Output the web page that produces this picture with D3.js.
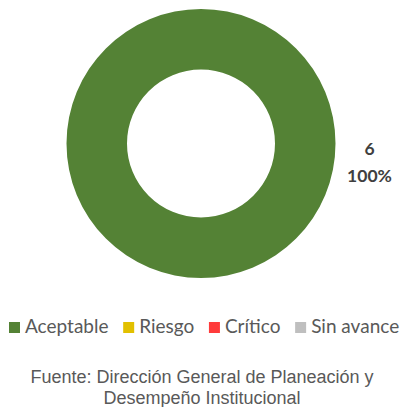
<!DOCTYPE html>
<html><head><meta charset="utf-8">
<script src="https://cdn.jsdelivr.net/npm/d3@7"></script>
<style>html,body{margin:0;padding:0;background:#fff}svg{display:block}</style>
</head><body>
<script>
const categories = ["Aceptable", "Riesgo", "Crítico", "Sin avance"];
const values = [6, 0, 0, 0];
const colors = ["#548235", "#E2C000", "#FF3B3B", "#BFBFBF"];
const sourceLines = ["Fuente: Dirección General de Planeación y", "Desempeño Institucional"];

const W = 403, H = 407;
const svg = d3.select("body").append("svg").attr("width", W).attr("height", H);

const cx = 201, cy = 143.5, rOuter = 134.5, rInner = 74;
const total = d3.sum(values);
const data = categories.map((c, i) => ({cat: c, value: values[i], color: colors[i]}));
const pie = d3.pie().sort(null).value(d => d.value);
const arc = d3.arc().innerRadius(rInner).outerRadius(rOuter);
const arcs = pie(data);
const g = svg.append("g").attr("transform", `translate(${cx},${cy})`);
g.selectAll("path").data(arcs.filter(a => a.data.value > 0)).join("path")
  .attr("d", arc).attr("fill", d => d.data.color);

// labels
arcs.filter(a => a.data.value > 0).forEach(a => {
  const midAngle = Math.PI / 2; // full-circle slice: label placed at right
  const lx = (rOuter + 34) * Math.sin(midAngle), ly = 0;
  const t = g.append("text").attr("text-anchor", "middle")
    .attr("font-family", "Lato, 'Open Sans', sans-serif").attr("font-weight", "bold")
    .attr("font-size", 17.5).attr("fill", "#404040");
  t.append("tspan").attr("x", lx).attr("y", ly + 11).text(a.data.value);
  t.append("tspan").attr("x", lx).attr("y", ly + 38).text(d3.format(".0%")(a.data.value / total));
});

// legend
const leg = svg.append("g");
let x = 9;
const legY = 322, sq = 11;
const gaps = 14.7;
data.forEach((d, i) => {
  leg.append("rect").attr("x", x).attr("y", legY).attr("width", sq).attr("height", sq).attr("fill", d.color);
  const t = leg.append("text").attr("x", x + sq + 5).attr("y", legY + 11)
    .attr("font-family", "Lato, 'Open Sans', sans-serif").attr("font-size", 19)
    .attr("fill", "#595959").text(d.cat);
  x = x + sq + 5 + t.node().getComputedTextLength() + gaps;
});

// source
svg.append("g").selectAll("text").data(sourceLines).join("text")
  .attr("x", 202).attr("y", (d, i) => 383 + i * 21)
  .attr("text-anchor", "middle")
  .attr("font-family", "'Liberation Sans', Arial, sans-serif").attr("font-size", 18)
  .attr("fill", "#595959").text(d => d);
</script>
</body></html>
